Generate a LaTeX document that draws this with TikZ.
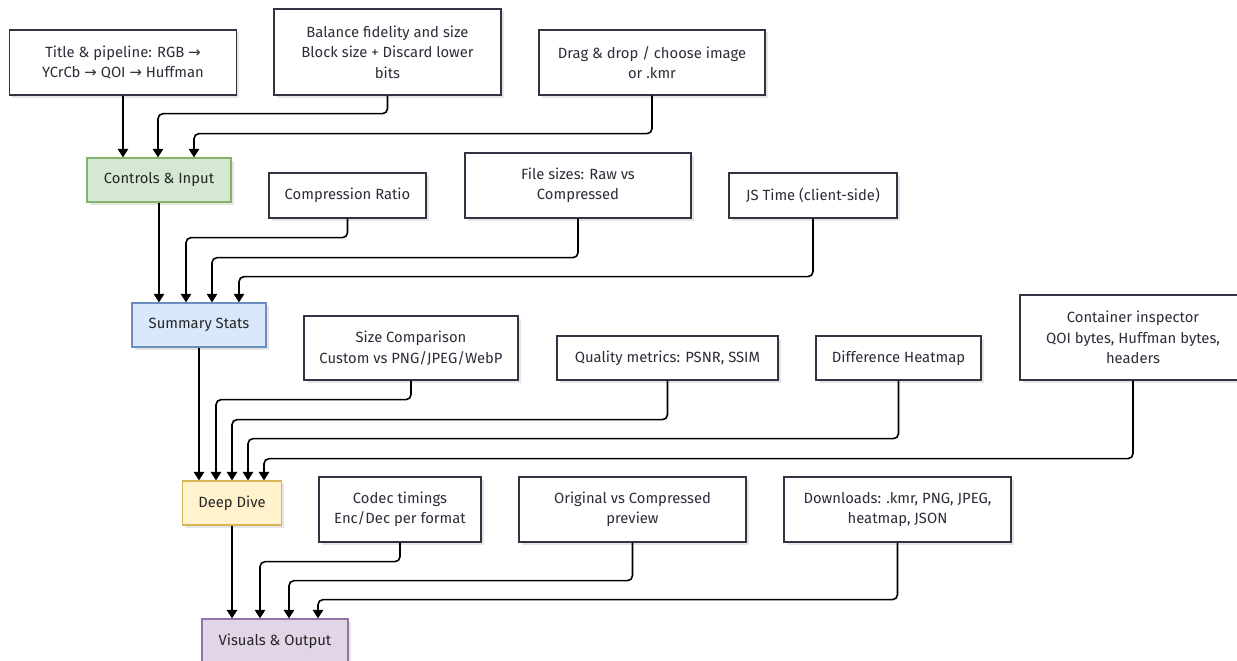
\documentclass[tikz,border=0pt]{standalone}
\usepackage{fontspec}
\setmainfont{Fira Sans}
\newfontfamily\arrowfont{DejaVu Sans}
\newcommand\rarr{{\arrowfont\char"2192}}
\usetikzlibrary{arrows.meta,shadows}

\definecolor{boxline}{RGB}{51,51,68}
\definecolor{txt}{RGB}{45,45,58}
\definecolor{greenfill}{HTML}{D5E8D4}\definecolor{greenline}{HTML}{82B366}
\definecolor{bluefill}{HTML}{DAE8FC}\definecolor{blueline}{HTML}{6C8EBF}
\definecolor{yellowfill}{HTML}{FFF2CC}\definecolor{yellowline}{HTML}{D6B656}
\definecolor{purplefill}{HTML}{E1D5E7}\definecolor{purpleline}{HTML}{9673A6}

\tikzset{
  base/.style={rectangle, align=center, inner sep=0pt, text=txt,
    font=\fontsize{14.8}{20.5}\selectfont,
    drop shadow={shadow xshift=2.5pt, shadow yshift=-2.5pt, opacity=0.10, fill=black}},
  info/.style={base, draw=boxline, fill=white, line width=1.3pt},
  stage/.style={base, line width=1.3pt, text=black!85},
  conn/.style={draw=black, line width=1.6pt, rounded corners=5pt,
    -{Triangle[length=8.5pt,width=10.5pt]}},
}

\begin{document}
\begin{tikzpicture}[x=1pt,y=-1pt]
\useasboundingbox (0,0) rectangle (1237,661);

% ---- stage 1: controls & input
\node[info, minimum width=227pt, minimum height=65pt] (title) at (123,62.5)
  {Title \& pipeline: RGB \rarr\\ YCrCb \rarr\ QOI \rarr\ Huffman};
\node[info, minimum width=227pt, minimum height=86pt] (bal) at (387.5,52)
  {Balance fidelity and size\\ Block size + Discard lower\\ bits};
\node[info, minimum width=226pt, minimum height=65pt] (drag) at (652,62.5)
  {Drag \& drop / choose image\\ or .kmr};
\node[stage, draw=greenline, fill=greenfill, minimum width=144pt, minimum height=44pt] (ctl) at (159,180)
  {Controls \& Input};

% ---- stage 2: summary stats
\node[info, minimum width=157pt, minimum height=45pt] (ratio) at (347.5,195.5)
  {Compression Ratio};
\node[info, minimum width=226pt, minimum height=65pt] (sizes) at (578,185.5)
  {File sizes: Raw vs\\ Compressed};
\node[info, minimum width=168pt, minimum height=45pt] (js) at (813,195.5)
  {JS Time (client-side)};
\node[stage, draw=blueline, fill=bluefill, minimum width=134pt, minimum height=44pt] (sum) at (199,325)
  {Summary Stats};

% ---- stage 3: deep dive
\node[info, minimum width=214pt, minimum height=64pt] (cmp) at (411,348)
  {Size Comparison\\ Custom vs PNG/JPEG/WebP};
\node[info, minimum width=221pt, minimum height=44pt] (qual) at (667.5,358)
  {Quality metrics: PSNR, SSIM};
\node[info, minimum width=165pt, minimum height=44pt] (diff) at (898.5,358)
  {Difference Heatmap};
\node[info, minimum width=226pt, minimum height=85pt] (cont) at (1133,337.5)
  {Container inspector\\ QOI bytes, Huffman bytes,\\ headers};
\node[stage, draw=yellowline, fill=yellowfill, minimum width=99pt, minimum height=44pt] (deep) at (232,503)
  {Deep Dive};

% ---- stage 4: visuals & output
\node[info, minimum width=162pt, minimum height=65pt] (codec) at (400,509.5)
  {Codec timings\\ Enc/Dec per format};
\node[info, minimum width=227pt, minimum height=65pt] (orig) at (632.5,509.5)
  {Original vs Compressed\\ preview};
\node[info, minimum width=227pt, minimum height=65pt] (dl) at (897.5,509.5)
  {Downloads: .kmr, PNG, JPEG,\\ heatmap, JSON};
\node[stage, draw=purpleline, fill=purplefill, minimum width=146pt, minimum height=44pt] (vis) at (275,641)
  {Visuals \& Output};

% ---- connectors into Controls & Input
\draw[conn] (title.south) -- (title.south |- ctl.north);
\draw[conn] (bal.south)  -- ++(0,18) -| ([xshift=-1pt]ctl.north);
\draw[conn] (drag.south) -- ++(0,38) -| ([xshift=35pt]ctl.north);

% ---- connectors into Summary Stats
\draw[conn] (ctl.south) -- (ctl.south |- sum.north);
\draw[conn] (ratio.south) -- ++(0,19) -| ([xshift=-13pt]sum.north);
\draw[conn] (sizes.south) -- ++(0,39) -| ([xshift=13pt]sum.north);
\draw[conn] (js.south)    -- ++(0,58) -| ([xshift=40pt]sum.north);

% ---- connectors into Deep Dive
\draw[conn] (sum.south) -- (sum.south |- deep.north);
\draw[conn] (cmp.south)  -- ++(0,19) -| ([xshift=-16pt]deep.north);
\draw[conn] (qual.south) -- ++(0,39) -| (deep.north);
\draw[conn] (diff.south) -- ++(0,58) -| ([xshift=16pt]deep.north);
\draw[conn] (cont.south) -- ++(0,78) -| ([xshift=32pt]deep.north);

% ---- connectors into Visuals & Output
\draw[conn] (deep.south) -- (deep.south |- vis.north);
\draw[conn] (codec.south) -- ++(0,19) -| ([xshift=-15pt]vis.north);
\draw[conn] (orig.south)  -- ++(0,38) -| ([xshift=14pt]vis.north);
\draw[conn] (dl.south)    -- ++(0,57) -| ([xshift=43pt]vis.north);
\end{tikzpicture}
\end{document}
